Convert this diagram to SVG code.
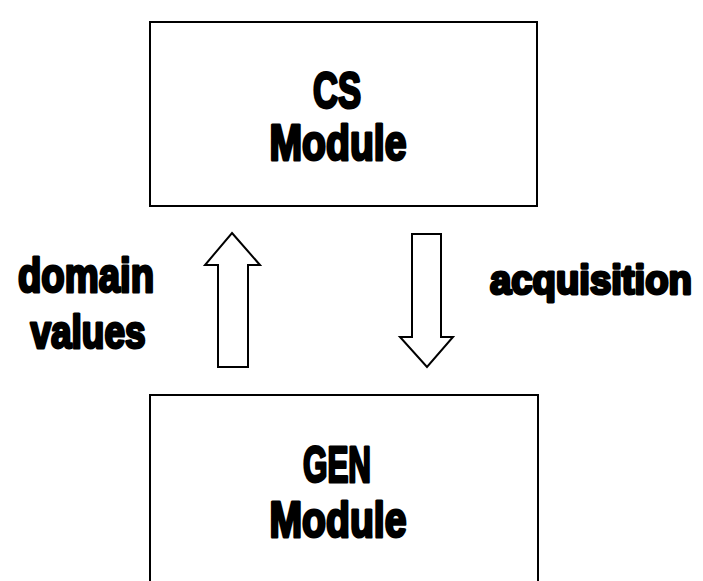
<svg xmlns="http://www.w3.org/2000/svg" width="703" height="581" viewBox="0 0 703 581">
<style>
.box{fill:#fff;stroke:#000;stroke-width:2}
.arr{fill:#fff;stroke:#000;stroke-width:2;stroke-linejoin:miter}
.t{font-family:"Liberation Sans",Arial,sans-serif;font-weight:bold;fill:#000;stroke:#000;stroke-width:3;stroke-linejoin:round;text-anchor:middle}
</style>
<rect width="703" height="581" fill="#fff"/>
<g id="cs">
<rect class="box" x="150" y="22" width="387" height="184"/>
<text class="t" x="337" y="108" font-size="50" textLength="48" lengthAdjust="spacingAndGlyphs">CS</text>
<text class="t" x="338" y="160" font-size="50" textLength="137" lengthAdjust="spacingAndGlyphs">Module</text>
</g>
<g id="gen">
<rect class="box" x="150" y="395" width="388" height="200"/>
<text class="t" x="337" y="482" font-size="50" textLength="68" lengthAdjust="spacingAndGlyphs">GEN</text>
<text class="t" x="338" y="537" font-size="50" textLength="137" lengthAdjust="spacingAndGlyphs">Module</text>
</g>
<g id="connectors">
<polygon class="arr" points="232,233 260,265 248,265 248,367 218,367 218,265 205,265"/>
<polygon class="arr" points="412,234 441,234 441,337 453,337 427,367 400,337 412,337"/>
</g>
<g id="labels">
<text class="t" x="86" y="292" font-size="48" textLength="136" lengthAdjust="spacingAndGlyphs">domain</text>
<text class="t" x="88" y="348" font-size="46" textLength="115" lengthAdjust="spacingAndGlyphs">values</text>
<text class="t" x="591" y="294" font-size="40" textLength="202" lengthAdjust="spacingAndGlyphs">acquisition</text>
</g>
</svg>
